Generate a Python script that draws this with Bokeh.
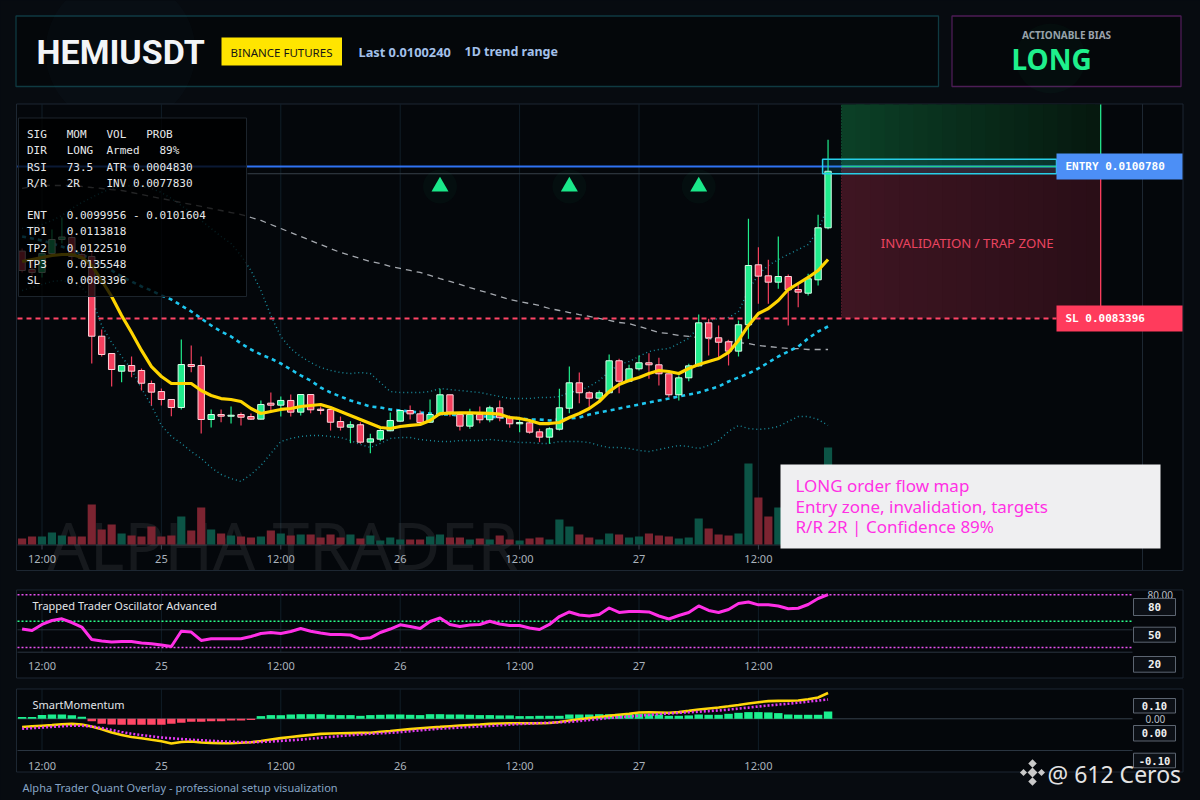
import pandas as pd
from bokeh.plotting import figure
from bokeh.models import Range1d
from bokeh.core.properties import value
from bokeh.embed import file_html
from bokeh.resources import INLINE
try:
    from bokeh.models import GlobalInlineStyleSheet
except Exception:
    GlobalInlineStyleSheet = None

# ------------------------------------------------------------------ data
SYMBOL = "HEMIUSDT"
VENUE = "BINANCE FUTURES"
LAST_PRICE = 0.0100240
ENTRY = 0.0100780
ENT_LOW = 0.0099956
ENT_HIGH = 0.0101604
TP1 = 0.0113818
TP2 = 0.0122510
TP3 = 0.0135548
SL = 0.0083396
RSI = 73.5
ATR = 0.0004830
INV = 0.0077830
CONF = 89
RR = "2R"
BIAS = "LONG"

FIRST_CANDLE = "2025-11-24 10:00"

open_ = [0.009110, 0.008900, 0.008866, 0.009083, 0.009243, 0.009266, 0.009072, 0.009049, 0.008137, 0.007939,
         0.007737, 0.007802, 0.007745, 0.007596, 0.007504, 0.007413, 0.007321, 0.007813, 0.007802, 0.007184,
         0.007241, 0.007222, 0.007241, 0.007218, 0.007188, 0.007371, 0.007348, 0.007402, 0.007268, 0.007470,
         0.007302, 0.007299, 0.007161, 0.007096, 0.007124, 0.006925, 0.006959, 0.007055, 0.007165, 0.007287,
         0.007249, 0.007153, 0.007238, 0.007467, 0.007241, 0.007108, 0.007241, 0.007181, 0.007318, 0.007210,
         0.007135, 0.007146, 0.007043, 0.006982, 0.007073, 0.007313, 0.007604, 0.007490, 0.007428, 0.007490,
         0.007856, 0.007622, 0.007764, 0.007833, 0.007810, 0.007707, 0.007467, 0.007661, 0.007798, 0.008290,
         0.008119, 0.008073, 0.007966, 0.008268, 0.008954, 0.008828, 0.008755, 0.008820, 0.008671, 0.008629,
         0.008782, 0.009377]
high = [0.009140, 0.009003, 0.009118, 0.009358, 0.009495, 0.009312, 0.009118, 0.009118, 0.008214, 0.007939,
        0.007802, 0.007905, 0.007768, 0.007630, 0.007539, 0.007413, 0.008099, 0.008031, 0.007905, 0.007299,
        0.007299, 0.007333, 0.007264, 0.007253, 0.007402, 0.007493, 0.007447, 0.007470, 0.007470, 0.007470,
        0.007333, 0.007299, 0.007218, 0.007165, 0.007153, 0.007021, 0.007081, 0.007264, 0.007295, 0.007344,
        0.007287, 0.007413, 0.007535, 0.007467, 0.007268, 0.007307, 0.007333, 0.007341, 0.007402, 0.007230,
        0.007192, 0.007173, 0.007078, 0.007096, 0.007535, 0.007790, 0.007722, 0.007508, 0.007516, 0.007928,
        0.007879, 0.007810, 0.007916, 0.007943, 0.007890, 0.007707, 0.007688, 0.007821, 0.008385, 0.008336,
        0.008260, 0.008096, 0.008317, 0.009480, 0.009155, 0.009011, 0.009278, 0.008843, 0.008755, 0.008851,
        0.009526, 0.010384]
low = [0.008866, 0.008832, 0.008809, 0.009049, 0.009198, 0.009003, 0.008980, 0.007825, 0.007905, 0.007562,
       0.007611, 0.007668, 0.007516, 0.007344, 0.007344, 0.007222, 0.007299, 0.007725, 0.007024, 0.007093,
       0.007153, 0.007138, 0.007116, 0.007178, 0.007184, 0.007279, 0.007218, 0.007218, 0.007230, 0.007256,
       0.007241, 0.007058, 0.007058, 0.006913, 0.006906, 0.006799, 0.006936, 0.007050, 0.007158, 0.007184,
       0.007135, 0.007146, 0.007230, 0.007218, 0.007058, 0.007078, 0.007142, 0.007153, 0.007165, 0.007089,
       0.007039, 0.007021, 0.006925, 0.006906, 0.007058, 0.007256, 0.007371, 0.007307, 0.007402, 0.007478,
       0.007485, 0.007611, 0.007745, 0.007650, 0.007573, 0.007439, 0.007402, 0.007621, 0.007790, 0.007916,
       0.007897, 0.007802, 0.007905, 0.008107, 0.008508, 0.008508, 0.008679, 0.008260, 0.008469, 0.008603,
       0.008717, 0.009361]
close = [0.008889, 0.008866, 0.009083, 0.009243, 0.009272, 0.009049, 0.009026, 0.008137, 0.007928, 0.007756,
         0.007802, 0.007737, 0.007599, 0.007497, 0.007413, 0.007321, 0.007813, 0.007790, 0.007184, 0.007241,
         0.007222, 0.007233, 0.007210, 0.007188, 0.007356, 0.007348, 0.007402, 0.007268, 0.007470, 0.007295,
         0.007287, 0.007153, 0.007096, 0.007124, 0.006925, 0.006963, 0.007058, 0.007173, 0.007287, 0.007249,
         0.007150, 0.007241, 0.007467, 0.007268, 0.007108, 0.007241, 0.007181, 0.007318, 0.007204, 0.007135,
         0.007150, 0.007039, 0.006982, 0.007078, 0.007318, 0.007604, 0.007490, 0.007428, 0.007490, 0.007856,
         0.007622, 0.007764, 0.007833, 0.007810, 0.007707, 0.007467, 0.007661, 0.007798, 0.008290, 0.008119,
         0.008068, 0.007966, 0.008268, 0.008946, 0.008824, 0.008755, 0.008820, 0.008668, 0.008641, 0.008794,
         0.009377, 0.010024]
volume_m = [6, 8, 8, 12, 9, 8, 8, 40, 15, 20,
            11, 9, 8, 18, 8, 9, 28, 14, 37, 15,
            11, 9, 8, 7, 8, 14, 11, 9, 10, 10,
            7, 10, 7, 10, 6, 9, 4, 7, 5, 5,
            5, 8, 10, 7, 7, 5, 6, 5, 9, 5,
            4, 6, 7, 5, 25, 18, 10, 7, 5, 11,
            10, 7, 8, 11, 9, 8, 6, 7, 26, 16,
            10, 9, 11, 81, 47, 28, 37, 30, 22, 25,
            40, 97]
ema_fast = [0.008992, 0.009015, 0.009037, 0.009060, 0.009072, 0.009072, 0.009037, 0.008946, 0.008774, 0.008591,
            0.008374, 0.008179, 0.007974, 0.007790, 0.007676, 0.007596, 0.007596, 0.007596, 0.007516, 0.007459,
            0.007424, 0.007413, 0.007390, 0.007310, 0.007253, 0.007276, 0.007299, 0.007310, 0.007333, 0.007344,
            0.007356, 0.007321, 0.007276, 0.007230, 0.007184, 0.007138, 0.007093, 0.007081, 0.007104, 0.007116,
            0.007127, 0.007173, 0.007253, 0.007258, 0.007260, 0.007260, 0.007258, 0.007255, 0.007245, 0.007207,
            0.007196, 0.007173, 0.007138, 0.007138, 0.007150, 0.007207, 0.007253, 0.007310, 0.007390, 0.007504,
            0.007585, 0.007630, 0.007665, 0.007710, 0.007745, 0.007733, 0.007710, 0.007768, 0.007813, 0.007848,
            0.007882, 0.007951, 0.008088, 0.008260, 0.008397, 0.008454, 0.008545, 0.008671, 0.008740, 0.008809,
            0.008889, 0.009015]
ema_slow = [0.009278, 0.009255, 0.009232, 0.009198, 0.009163, 0.009118, 0.009072, 0.009015, 0.008957, 0.008889,
            0.008820, 0.008763, 0.008706, 0.008660, 0.008603, 0.008557, 0.008488, 0.008420, 0.008340, 0.008260,
            0.008191, 0.008134, 0.008054, 0.007985, 0.007928, 0.007882, 0.007825, 0.007756, 0.007688, 0.007630,
            0.007550, 0.007493, 0.007447, 0.007402, 0.007367, 0.007333, 0.007321, 0.007299, 0.007287, 0.007276,
            0.007264, 0.007253, 0.007241, 0.007241, 0.007230, 0.007230, 0.007218, 0.007218, 0.007207, 0.007207,
            0.007196, 0.007184, 0.007184, 0.007173, 0.007184, 0.007196, 0.007207, 0.007241, 0.007264, 0.007287,
            0.007310, 0.007333, 0.007356, 0.007379, 0.007402, 0.007424, 0.007447, 0.007470, 0.007493, 0.007527,
            0.007562, 0.007619, 0.007665, 0.007710, 0.007768, 0.007836, 0.007905, 0.007962, 0.008019, 0.008111,
            0.008191, 0.008248]
ma_long = [0.009827, 0.009850, 0.009861, 0.009861, 0.009861, 0.009861, 0.009850, 0.009838, 0.009827, 0.009815,
           0.009804, 0.009781, 0.009758, 0.009735, 0.009712, 0.009690, 0.009667, 0.009644, 0.009621, 0.009598,
           0.009575, 0.009552, 0.009529, 0.009495, 0.009461, 0.009415, 0.009369, 0.009323, 0.009278, 0.009232,
           0.009186, 0.009140, 0.009095, 0.009060, 0.009026, 0.008992, 0.008969, 0.008935, 0.008912, 0.008889,
           0.008866, 0.008832, 0.008797, 0.008763, 0.008729, 0.008694, 0.008660, 0.008626, 0.008591, 0.008557,
           0.008534, 0.008511, 0.008488, 0.008454, 0.008431, 0.008408, 0.008385, 0.008363, 0.008340, 0.008317,
           0.008294, 0.008282, 0.008248, 0.008214, 0.008179, 0.008168, 0.008145, 0.008134, 0.008122, 0.008111,
           0.008099, 0.008077, 0.008065, 0.008054, 0.008031, 0.008019, 0.008008, 0.007996, 0.007996, 0.007985,
           0.007985, 0.007985]
bb_upper = [0.009369, 0.009392, 0.009415, 0.009461, 0.009518, 0.009598, 0.009667, 0.009724, 0.009781, 0.009827,
            0.009850, 0.009861, 0.009850, 0.009827, 0.009781, 0.009712, 0.009632, 0.009552, 0.009461, 0.009369,
            0.009278, 0.009198, 0.009060, 0.008889, 0.008660, 0.008374, 0.008134, 0.007996, 0.007905, 0.007836,
            0.007779, 0.007745, 0.007722, 0.007710, 0.007722, 0.007710, 0.007607, 0.007504, 0.007493, 0.007493,
            0.007493, 0.007504, 0.007539, 0.007527, 0.007516, 0.007504, 0.007493, 0.007470, 0.007447, 0.007424,
            0.007424, 0.007424, 0.007436, 0.007436, 0.007447, 0.007493, 0.007516, 0.007562, 0.007630, 0.007733,
            0.007813, 0.007848, 0.007905, 0.007962, 0.007985, 0.007996, 0.008054, 0.008111, 0.008248, 0.008317,
            0.008340, 0.008351, 0.008420, 0.008660, 0.008843, 0.008946, 0.009015, 0.009072, 0.009129, 0.009186,
            0.009346, 0.009632]
bb_lower = [0.008660, 0.008694, 0.008729, 0.008763, 0.008774, 0.008751, 0.008694, 0.008568, 0.008260, 0.008065,
            0.007905, 0.007756, 0.007539, 0.007344, 0.007116, 0.006990, 0.006910, 0.006818, 0.006738, 0.006635,
            0.006555, 0.006509, 0.006475, 0.006555, 0.006658, 0.006795, 0.006932, 0.006967, 0.006990, 0.007001,
            0.007001, 0.006990, 0.006978, 0.006944, 0.006898, 0.006864, 0.006910, 0.006967, 0.006978, 0.006978,
            0.006955, 0.006944, 0.006932, 0.006932, 0.006944, 0.006944, 0.006944, 0.006955, 0.006944, 0.006932,
            0.006921, 0.006921, 0.006910, 0.006910, 0.006932, 0.006932, 0.006932, 0.006921, 0.006887, 0.006864,
            0.006864, 0.006852, 0.006830, 0.006818, 0.006841, 0.006864, 0.006887, 0.006875, 0.006852, 0.006887,
            0.006944, 0.007047, 0.007116, 0.007081, 0.007070, 0.007081, 0.007104, 0.007161, 0.007218, 0.007218,
            0.007184, 0.007116]
signal_idx = [42, 55, 68]
SIGNAL_LEVEL = 0.009850

osc = [41.1, 39.4, 46.3, 50.8, 52.7, 48.5, 43.4, 29.2, 27.5, 26.4,
       26.9, 26.9, 25.2, 24.3, 23.0, 21.3, 38.6, 37.7, 28.1, 30.0,
       30.0, 30.0, 30.0, 32.6, 36.0, 37.2, 36.0, 38.3, 41.7, 38.6,
       36.6, 34.9, 34.9, 34.3, 30.0, 31.1, 37.2, 41.1, 45.9, 44.0,
       41.7, 49.7, 53.6, 46.3, 44.0, 45.7, 46.3, 50.0, 46.8, 45.1,
       45.1, 42.3, 40.6, 46.3, 55.3, 60.5, 57.0, 55.9, 57.6, 65.0,
       59.9, 61.0, 61.0, 60.5, 55.9, 52.5, 56.5, 59.9, 67.3, 62.2,
       59.9, 63.3, 70.1, 71.8, 68.6, 68.6, 67.3, 64.1, 64.7, 69.0,
       75.8, 80.3]
osc_levels = [80, 50, 20]
osc_level_colors = ["#e84ff0", "#2bff8a", "#e84ff0"]

mom_hist = [0.0068, 0.0068, 0.0148, 0.0172, 0.0172, 0.0140, 0.0080, -0.0096, -0.0200, -0.0228,
            -0.0240, -0.0240, -0.0240, -0.0240, -0.0240, -0.0200, -0.0160, -0.0120, -0.0120, -0.0100,
            -0.0096, -0.0072, -0.0064, -0.0048, 0.0108, 0.0148, 0.0144, 0.0172, 0.0184, 0.0184,
            0.0184, 0.0160, 0.0148, 0.0148, 0.0120, 0.0148, 0.0160, 0.0172, 0.0172, 0.0160,
            0.0148, 0.0184, 0.0184, 0.0172, 0.0172, 0.0160, 0.0148, 0.0148, 0.0136, 0.0136,
            0.0108, 0.0108, 0.0120, 0.0120, 0.0120, 0.0172, 0.0172, 0.0172, 0.0184, 0.0184,
            0.0200, 0.0200, 0.0200, 0.0184, 0.0172, 0.0120, 0.0120, 0.0136, 0.0172, 0.0160,
            0.0160, 0.0200, 0.0240, 0.0268, 0.0268, 0.0256, 0.0228, 0.0172, 0.0160, 0.0160,
            0.0160, 0.0292]
mom_line = [-0.0328, -0.0300, -0.0276, -0.0252, -0.0220, -0.0204, -0.0228, -0.0308, -0.0420, -0.0548,
            -0.0648, -0.0728, -0.0780, -0.0840, -0.0896, -0.0988, -0.0928, -0.0908, -0.0948, -0.0964,
            -0.0972, -0.0976, -0.0960, -0.0940, -0.0888, -0.0828, -0.0772, -0.0728, -0.0684, -0.0644,
            -0.0604, -0.0588, -0.0580, -0.0572, -0.0564, -0.0556, -0.0520, -0.0488, -0.0448, -0.0412,
            -0.0380, -0.0348, -0.0324, -0.0296, -0.0268, -0.0248, -0.0228, -0.0204, -0.0188, -0.0176,
            -0.0176, -0.0176, -0.0176, -0.0168, -0.0128, -0.0068, -0.0016, 0.0028, 0.0072, 0.0116,
            0.0160, 0.0204, 0.0252, 0.0260, 0.0252, 0.0244, 0.0268, 0.0316, 0.0372, 0.0412,
            0.0452, 0.0500, 0.0552, 0.0612, 0.0664, 0.0708, 0.0716, 0.0724, 0.0732, 0.0780,
            0.0852, 0.1032]
mom_signal = [-0.0400, -0.0372, -0.0348, -0.0324, -0.0300, -0.0276, -0.0280, -0.0308, -0.0368, -0.0448,
              -0.0528, -0.0600, -0.0652, -0.0700, -0.0748, -0.0780, -0.0808, -0.0836, -0.0860, -0.0880,
              -0.0900, -0.0916, -0.0932, -0.0936, -0.0928, -0.0908, -0.0884, -0.0860, -0.0832, -0.0796,
              -0.0760, -0.0724, -0.0688, -0.0656, -0.0628, -0.0600, -0.0580, -0.0560, -0.0532, -0.0496,
              -0.0460, -0.0428, -0.0396, -0.0372, -0.0348, -0.0328, -0.0308, -0.0284, -0.0260, -0.0236,
              -0.0212, -0.0192, -0.0172, -0.0156, -0.0140, -0.0124, -0.0088, -0.0048, -0.0008, 0.0036,
              0.0064, 0.0092, 0.0124, 0.0156, 0.0188, 0.0216, 0.0240, 0.0260, 0.0284, 0.0308,
              0.0332, 0.0368, 0.0408, 0.0448, 0.0492, 0.0532, 0.0568, 0.0604, 0.0644, 0.0684,
              0.0732, 0.0772]
mom_levels = [0.10, 0.00, -0.10]

tick_times = ["2025-11-24 12:00", "2025-11-25 00:00", "2025-11-25 12:00", "2025-11-26 00:00",
              "2025-11-26 12:00", "2025-11-27 00:00", "2025-11-27 12:00"]
tick_labels = ["12:00", "25", "12:00", "26", "12:00", "27", "12:00"]

# ------------------------------------------------------------------ layout constants
HOUR = 3600000.0
times = pd.date_range(FIRST_CANDLE, periods=len(close), freq="h")
t = [ts.value / 1e6 for ts in times]
tick_t = [pd.Timestamp(s).value / 1e6 for s in tick_times]

W, H = 1200, 800
T_ANCHOR = tick_t[0]
ANCHOR_PX = 41.5
PX_PER_HOUR = 9.95


def t_at(px):
    return T_ANCHOR + (px - ANCHOR_PX) / PX_PER_HOUR * HOUR


PRICE_Y0 = 0.0119775
PRICE_PER_PX = 1.144e-5


def price_at(py):
    return PRICE_Y0 - PRICE_PER_PX * py


VOL_BASE_PX = 544.0
OSC_MID_PX, OSC_PX_PER_UNIT = 620.7, 0.88
MOM_ZERO_PX, MOM_PX_PER_UNIT = 718.3, 250.0

BG = "#070b10"
PANEL = "#04070b"
PANEL_LINE = "#1d2732"
UI = "Noto Sans"
MONO = "DejaVu Sans Mono"
GREEN = "#1fec8c"
RED = "#f43f5d"
NB = "\u00a0"

p = figure(width=W, height=H, x_range=Range1d(0, W), y_range=Range1d(H, 0),
           x_axis_location=None, y_axis_location=None, toolbar_location=None,
           output_backend="svg", min_border=0)
p.grid.visible = False
p.outline_line_color = None
p.background_fill_color = BG
p.border_fill_color = BG
if GlobalInlineStyleSheet is not None:
    p.stylesheets = [GlobalInlineStyleSheet(
        css="html, body { background-color: #070b10; margin: 0; padding: 0; overflow: hidden; }")]

p.extra_x_ranges = {"t": Range1d(t_at(0), t_at(W))}
p.extra_y_ranges = {
    "price": Range1d(price_at(H), price_at(0)),
    "vol": Range1d(-(H - VOL_BASE_PX), VOL_BASE_PX),
    "osc": Range1d(50 - (H - OSC_MID_PX) / OSC_PX_PER_UNIT, 50 + OSC_MID_PX / OSC_PX_PER_UNIT),
    "mom": Range1d(-(H - MOM_ZERO_PX) / MOM_PX_PER_UNIT, MOM_ZERO_PX / MOM_PX_PER_UNIT),
}
TP = dict(x_range_name="t", y_range_name="price")


def box(l, r, top, bot, fill, line=None, fa=1.0, lw=1.0, la=1.0, **kw):
    p.quad(left=[l], right=[r], top=[top], bottom=[bot], fill_color=fill, fill_alpha=fa,
           line_color=line, line_width=lw, line_alpha=la, **kw)


def label(x, y, s, size, color, font=UI, style="normal", align="left", baseline="middle", alpha=1.0, **kw):
    p.text(x=[x], y=[y], text=[s], text_font=value(font), text_font_size=value(f"{size}px"),
           text_font_style=style, text_color=color, text_alpha=alpha, text_align=align,
           text_baseline=baseline, **kw)


def lerp_hex(c1, c2, f):
    a = [int(c1[i:i + 2], 16) for i in (1, 3, 5)]
    b = [int(c2[i:i + 2], 16) for i in (1, 3, 5)]
    return "#" + "".join(f"{int(round(x + (y - x) * f)):02x}" for x, y in zip(a, b))


def x_ticks(y_label, y_top, y_axis):
    n = len(tick_t)
    p.segment(x0=tick_t, x1=tick_t, y0=[y_top] * n, y1=[y_axis] * n, x_range_name="t",
              line_color="#101e28", line_width=1)
    p.segment(x0=[17], x1=[1132], y0=[y_axis], y1=[y_axis], line_color="#2a3541", line_width=1)
    p.text(x=tick_t, y=[y_label] * n, text=tick_labels, x_range_name="t", text_font=value(UI),
           text_font_size=value("11px"), text_color="#aab3bd", text_align="center", text_baseline="middle")


# ------------------------------------------------------------------ header
box(15.5, 938, 15.5, 86, "#04070a", "#0f3a41", lw=1.3)
p.scatter(x=[120], y=[51], size=150, marker="circle", fill_color="#4aa8c8", fill_alpha=0.025, line_color=None)
label(36, 51, SYMBOL, 34, "#f3f5f7", font="Roboto", style="bold")
box(221, 341.5, 37, 65, "#ffe500")
label(281, 51.5, VENUE, 11.5, "#161616", align="center")
label(358, 51, f"Last {LAST_PRICE:.7f}", 12.8, "#a3c1ea", style="bold")
label(464, 51, "1D trend range", 12.5, "#a3c1ea", style="bold")

box(951.5, 1180.5, 15.5, 86, "#04070a", "#4d1d56", lw=1.3)
label(1066, 34, "ACTIONABLE BIAS", 10, "#9ba1ab", style="bold", align="center")
p.scatter(x=[1050], y=[58], size=70, marker="circle", fill_color=GREEN, fill_alpha=0.03, line_color=None)
label(1011, 58.5, BIAS, 28, "#1ff08c", style="bold")

# ------------------------------------------------------------------ main panel
box(16, 1182.5, 103.5, 570, PANEL, PANEL_LINE)
x_ticks(558, 103.5, 544.5)
p.segment(x0=tick_t, x1=tick_t, y0=[544.5] * len(tick_t), y1=[549] * len(tick_t), x_range_name="t",
          line_color="#3a4550")
p.segment(x0=[1142], x1=[1142], y0=[103.5], y1=[570], line_color=PANEL_LINE, line_width=1)
p.segment(x0=[1132], x1=[1142], y0=[544.5], y1=[544.5], line_color="#2a3541")

label(47, 543, "ALPHA TRADER", 66, "#ffffff", alpha=0.075, baseline="alphabetic")

up = [c >= o for o, c in zip(open_, close)]
vol_col = ["#0c5446" if u else "#7c2431" for u in up]
p.vbar(x=t, width=0.82 * HOUR, top=volume_m, bottom=0, fill_color=vol_col, line_color=None,
       x_range_name="t", y_range_name="vol")

# zones (horizontal colour fade built from overlapping slices)
z0 = t[-1] + 1.35 * HOUR
z1 = t[-1] + 27.4 * HOUR
lab_t = t_at(1056)
green_top = min(TP1, price_at(104))
N = 18
step = (z1 - z0) / N
for k in range(N):
    a = z0 + step * k
    b = min(z1, a + step * 1.6)
    p.quad(left=[a], right=[b], top=[green_top], bottom=[ENTRY], fill_color=lerp_hex("#0b3f26", "#06190f", k / (N - 1)),
           line_color=None, **TP)
    p.quad(left=[a], right=[b], top=[ENTRY], bottom=[SL], fill_color=lerp_hex("#3e1522", "#2a0e17", k / (N - 1)),
           line_color=None, **TP)
p.segment(x0=[z0], x1=[z0], y0=[ENTRY], y1=[green_top], line_color="#1fa463", line_dash="1 2", line_alpha=0.6, **TP)
p.segment(x0=[z0], x1=[z0], y0=[SL], y1=[ENTRY], line_color="#c83350", line_dash="1 2", line_alpha=0.6, **TP)
p.segment(x0=[z1], x1=[z1], y0=[ENTRY], y1=[green_top], line_color="#25e58c", line_width=1.3, **TP)
p.segment(x0=[z1], x1=[z1], y0=[SL], y1=[ENTRY], line_color="#ff3f5f", line_width=1.3, **TP)

# indicator lines
p.line(t, bb_upper, line_color="#1a8fa0", line_dash="1 3", line_width=1.4, **TP)
p.line(t, bb_lower, line_color="#1a8fa0", line_dash="1 3", line_width=1.4, **TP)
p.line(t, ma_long, line_color="#c2c6cc", line_dash="6 5", line_width=1.3, line_alpha=0.85, **TP)
p.line(t, ema_slow, line_color="#1ec6ef", line_dash="4 4", line_width=2.6, **TP)

# levels
p.segment(x0=[17], x1=[1056], y0=[ENTRY], y1=[ENTRY], line_color="#2f72f2", line_width=2, y_range_name="price")
p.segment(x0=[247], x1=[823], y0=[ENT_LOW], y1=[ENT_LOW], line_color="#38404a", line_width=1, y_range_name="price")
p.segment(x0=[z0], x1=[lab_t], y0=[ENTRY], y1=[ENTRY], line_color="#22d27c", line_width=1.5, **TP)
p.segment(x0=[17], x1=[1056], y0=[SL], y1=[SL], line_color="#ff4566", line_width=2, line_dash="5 4",
          y_range_name="price")

# candles
wick_col = [GREEN if u else RED for u in up]
edge_col = ["#d8ffe9" if u else "#ffd4dc" for u in up]
p.segment(x0=t, x1=t, y0=low, y1=high, line_color=wick_col, line_width=1.2, **TP)
p.vbar(x=t, width=0.64 * HOUR, top=[max(o, c) for o, c in zip(open_, close)],
       bottom=[min(o, c) for o, c in zip(open_, close)], fill_color=wick_col, line_color=edge_col,
       line_width=1, **TP)

p.line(t, ema_fast, line_color="#ffd500", line_width=3.2, line_join="round", **TP)

sig_t = [t[i] for i in signal_idx]
p.scatter(x=sig_t, y=[SIGNAL_LEVEL] * len(sig_t), marker="circle", size=34, fill_color=GREEN, fill_alpha=0.035,
          line_color=None, **TP)
p.scatter(x=sig_t, y=[SIGNAL_LEVEL] * len(sig_t), marker="triangle", size=17, fill_color="#1ae88a",
          line_color=None, **TP)

# entry zone box
p.quad(left=[t[-1] - 0.55 * HOUR], right=[lab_t], top=[ENT_HIGH], bottom=[ENT_LOW], fill_color="#20c4e0",
       fill_alpha=0.13, line_color="#27cfe8", line_width=1.5, **TP)

# info box
box(18, 246, 117.5, 296, "#000000", "#1c242c", fa=0.78)
info = [
    (134, "SIG   MOM   VOL   PROB"),
    (150.3, f"DIR   {BIAS}  Armed   {CONF}%"),
    (166.6, f"RSI   {RSI:.1f}  ATR {ATR:.7f}"),
    (182.9, f"R/R   {RR}    INV {INV:.7f}"),
    (215.3, f"ENT   {ENT_LOW:.7f} - {ENT_HIGH:.7f}"),
    (231.3, f"TP1   {TP1:.7f}"),
    (247.5, f"TP2   {TP2:.7f}"),
    (264.0, f"TP3   {TP3:.7f}"),
    (280.3, f"SL    {SL:.7f}"),
]
p.text(x=[26.5] * len(info), y=[r[0] for r in info], text=[r[1].replace(" ", NB) for r in info],
       text_font=value(MONO), text_font_size=value("11px"), text_color="#e6e8ea", text_baseline="middle")

# price tags
p.rect(x=[1119], y=[ENTRY], width=126, height=26, height_units="screen", fill_color="#4c8ff6",
       line_color=None, y_range_name="price")
label(1065, ENTRY, f"ENTRY {ENTRY:.7f}", 11, "#ffffff", font=MONO, style="bold", y_range_name="price")
p.rect(x=[1119], y=[SL], width=126, height=26, height_units="screen", fill_color="#ff3b5c",
       line_color=None, y_range_name="price")
label(1065, SL, f"SL {SL:.7f}", 11, "#ffffff", font=MONO, style="bold", y_range_name="price")

label((z0 + z1) / 2 - 0.4 * HOUR, (ENTRY + SL) / 2, "INVALIDATION / TRAP ZONE", 13.2, "#ea4460",
      align="center", **TP)

# note card
box(780, 1160, 464, 548, "#efeff1")
for yy, s in [(485, f"{BIAS} order flow map"), (505.5, "Entry zone, invalidation, targets"),
              (526, f"R/R {RR} | Confidence {CONF}%")]:
    label(795, yy, s, 17, "#ff30e4")

# ------------------------------------------------------------------ oscillator panel
box(16, 1182.5, 589.5, 677.5, PANEL, PANEL_LINE)
x_ticks(665, 589.5, 651.7)
p.segment(x0=[17], x1=[1132], y0=[629.3], y1=[629.3], line_color="#27313b", line_width=1)
for lv, col in zip(osc_levels, osc_level_colors):
    p.segment(x0=[17], x1=[1132], y0=[lv], y1=[lv], line_color=col, line_dash="2 2", line_width=1.5,
              y_range_name="osc")
p.line(t, osc, line_color="#ff2fe6", line_width=3, line_join="round", x_range_name="t", y_range_name="osc")
label(32, 605, "Trapped Trader Oscillator Advanced", 11, "#e2e5e9")
label(1147, 594.5, f"{osc_levels[0]:.2f}", 10, "#b9bfc7")
for (yt, yb), lv in zip([(598, 615), (626.7, 641.7), (656, 671.7)], osc_levels):
    box(1133, 1175, yt, yb, "#0c1016", "#5c6571")
    label(1154, (yt + yb) / 2, f"{lv}", 11, "#f0f0f0", font=MONO, style="bold", align="center")

# ------------------------------------------------------------------ momentum panel
box(16, 1182.5, 688.5, 771.5, PANEL, PANEL_LINE)
x_ticks(765, 688.5, 750)
p.segment(x0=[17], x1=[1132], y0=[0], y1=[0], line_color="#36414c", line_width=1, y_range_name="mom")
hist_col = ["#1bef8f" if v >= 0 else "#ff4766" for v in mom_hist]
p.vbar(x=t, width=0.85 * HOUR, top=mom_hist, bottom=0, fill_color=hist_col, line_color=None,
       x_range_name="t", y_range_name="mom")
p.line(t, mom_line, line_color="#ffd60a", line_width=2.6, x_range_name="t", y_range_name="mom")
p.line(t, mom_signal, line_color="#e23cf2", line_width=2.6, line_dash="2 2", x_range_name="t", y_range_name="mom")
label(32, 704, "SmartMomentum", 11, "#e2e5e9")
label(1145, 718.3, f"{mom_levels[1]:.2f}", 10, "#b9bfc7")
for (yt, yb), lv in zip([(698, 712.5), (725, 740.5), (752.7, 767.3)], mom_levels):
    box(1133, 1175, yt, yb, "#0c1016", "#5c6571")
    label(1154, (yt + yb) / 2, f"{lv:.2f}", 10.5, "#f0f0f0", font=MONO, style="bold", align="center")

# ------------------------------------------------------------------ footer
label(22, 787, "Alpha Trader Quant Overlay - professional setup visualization", 11, "#86a5c6")
p.scatter(x=[1032, 1023, 1041, 1032, 1032], y=[772, 772, 772, 763, 781], marker="square", angle=0.785,
          size=[7, 5, 5, 6, 6], fill_color="#c9c9c9", line_color=None)
label(1047, 773, "@ 612 Ceros", 23, "#e3e3e3")

open("out.html", "w").write(file_html(p, INLINE))
